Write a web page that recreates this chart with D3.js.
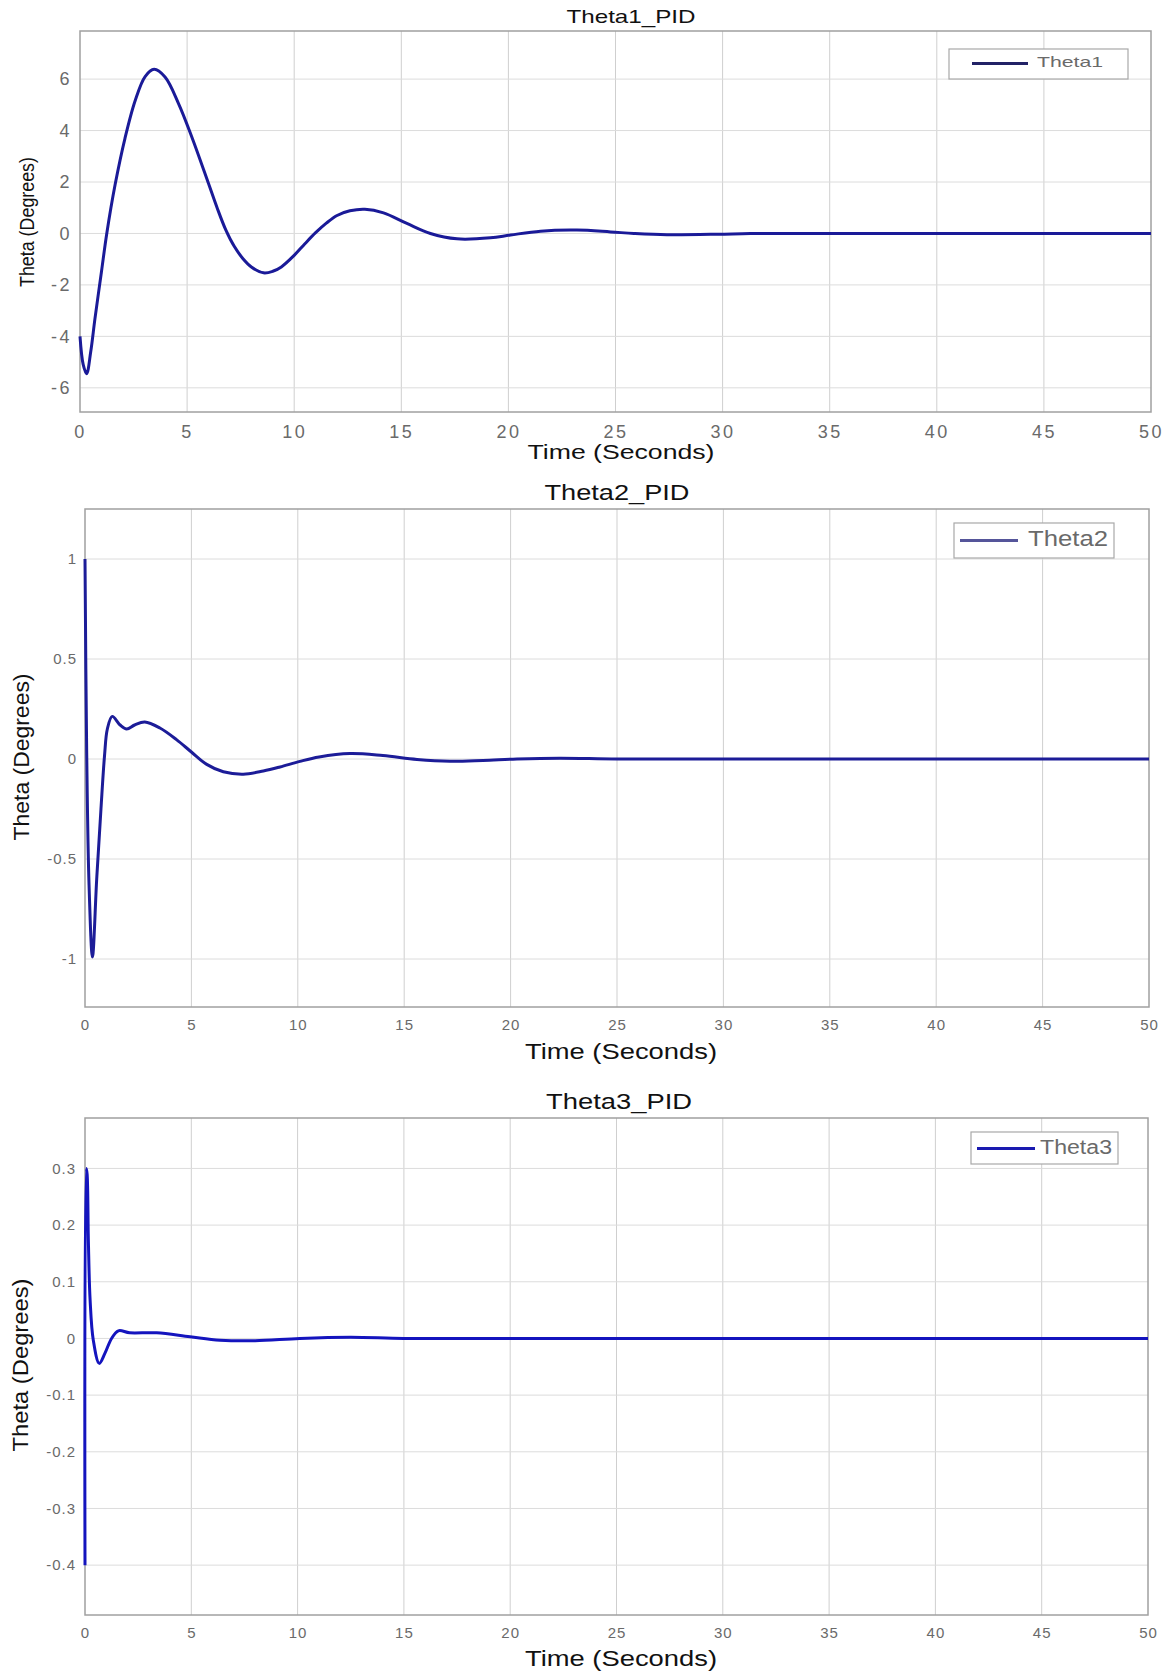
<!DOCTYPE html>
<html>
<head>
<meta charset="utf-8">
<script src="https://cdn.jsdelivr.net/npm/d3@7"></script>
<style>
  body { margin: 0; background: #fff; }
  svg { display: block; font-family: "Liberation Sans", Arial, sans-serif; }
  .grid line { stroke: #dcdcdc; stroke-width: 1; }
  .tick-label { fill: #6a6a6a; }
</style>
</head>
<body>
<svg id="chart"></svg>
<script>
// データ
const t1 = [0, 0.15, 0.31, 0.5, 0.7, 1.0, 1.25, 1.64, 2.1, 2.57, 3.04, 3.46, 3.97, 4.6, 5.22, 6.0, 6.4, 6.8, 7.2, 7.6, 8.0, 8.57, 9.0, 9.4, 10.0, 10.5, 11.0, 11.5, 12.0, 12.6, 13.3, 14.17, 15.26, 16.36, 17.6, 19.16, 20.1, 21.5, 23.2, 24.77, 25.86, 27.4, 29.8, 31.3, 35, 40, 45, 50];
const theta1 = [-4.0, -5.1, -5.45, -4.6, -3.3, -1.5, 0, 1.9, 3.7, 5.15, 6.1, 6.38, 6.08, 5.05, 3.75, 1.94, 1.0, 0.15, -0.5, -0.97, -1.3, -1.53, -1.47, -1.3, -0.85, -0.4, 0.03, 0.4, 0.7, 0.88, 0.94, 0.8, 0.39, 0, -0.21, -0.17, -0.06, 0.09, 0.13, 0.06, 0, -0.05, -0.03, 0, 0, 0, 0, 0];

const t2 = [0, 0.08, 0.19, 0.35, 0.55, 0.75, 0.92, 1.05, 1.28, 1.65, 1.96, 2.33, 2.81, 3.52, 4.3, 5.0, 5.72, 6.5, 7.44, 8.38, 9.16, 10.1, 11.0, 12.45, 14.0, 15.6, 17.15, 18.7, 20.3, 22.3, 25, 30, 40, 50];
const theta2 = [1.0, 0.03, -0.63, -0.99, -0.6, -0.25, 0.02, 0.15, 0.213, 0.17, 0.15, 0.17, 0.185, 0.155, 0.097, 0.035, -0.027, -0.064, -0.076, -0.06, -0.04, -0.012, 0.01, 0.027, 0.017, -0.002, -0.011, -0.007, 0, 0.004, 0, 0, 0, 0];

const t3 = [0, 0.06, 0.1, 0.16, 0.24, 0.39, 0.67, 0.94, 1.25, 1.57, 2.1, 3.37, 4.94, 6.35, 8.0, 10.1, 12.5, 15, 20, 30, 40, 50];
const theta3 = [-0.4, 0.3, 0.29, 0.17, 0.068, -0.003, -0.044, -0.026, 0, 0.0135, 0.01, 0.01, 0.003, -0.003, -0.004, 0, 0.002, 0, 0, 0, 0, 0];

const xTicks = [0, 5, 10, 15, 20, 25, 30, 35, 40, 45, 50];
const yTicks1 = [-6, -4, -2, 0, 2, 4, 6];
const yTicks2 = [-1, -0.5, 0, 0.5, 1];
const yTicks3 = [-0.4, -0.3, -0.2, -0.1, 0, 0.1, 0.2, 0.3];

const seriesNames = ["Theta1", "Theta2", "Theta3"];
const titles = ["Theta1_PID", "Theta2_PID", "Theta3_PID"];

// SVGサイズ
const width = 1175;
const height = 1677;

const svg = d3.select("#chart")
  .attr("width", width)
  .attr("height", height);

svg.append("rect").attr("width", width).attr("height", height).attr("fill", "#fff");

// パネルごとの配置
const panels = [
  {
    t: t1, v: theta1, yTicks: yTicks1, name: seriesNames[0], title: titles[0],
    left: 80, right: 1151, top: 31, bottom: 412, yDomain: [-6.94, 7.87],
    titleY: 18, titleX: 631, titleW: 129, titleSize: 19,
    tickY: 432, tickSize: 18, tickSpacing: 2.5, yTickRight: 72,
    xlabY: 454, xlabW: 187, xlabSize: 20, xlabX: 621,
    ylabX: 29, ylabY: 222, ylabW: 130, ylabSize: 20,
    color: "#1a1a98", lineW: 3,
    legend: { x0: 949, y0: 49, x1: 1128, y1: 79, l0: 972, l1: 1028, ly: 63.5, tx: 1037, tw: 66, ts: 15, lc: "#222266" }
  },
  {
    t: t2, v: theta2, yTicks: yTicks2, name: seriesNames[1], title: titles[1],
    left: 85, right: 1149, top: 509, bottom: 1007, yDomain: [-1.24, 1.25],
    titleY: 494, titleX: 617, titleW: 145, titleSize: 22,
    tickY: 1025, tickSize: 15, tickSpacing: 1, yTickRight: 77,
    xlabY: 1053, xlabW: 192, xlabSize: 22, xlabX: 621,
    ylabX: 23, ylabY: 757, ylabW: 167, ylabSize: 22,
    color: "#1c1c98", lineW: 3,
    legend: { x0: 954, y0: 523, x1: 1114, y1: 558, l0: 960, l1: 1018, ly: 540.5, tx: 1028, tw: 80, ts: 22, lc: "#55559a" }
  },
  {
    t: t3, v: theta3, yTicks: yTicks3, name: seriesNames[2], title: titles[2],
    left: 85, right: 1148, top: 1118, bottom: 1615, yDomain: [-0.488, 0.389],
    titleY: 1103, titleX: 619, titleW: 146, titleSize: 22,
    tickY: 1633, tickSize: 15, tickSpacing: 1, yTickRight: 76,
    xlabY: 1660, xlabW: 192, xlabSize: 22, xlabX: 621,
    ylabX: 22, ylabY: 1365, ylabW: 173, ylabSize: 22,
    color: "#1414be", lineW: 3,
    legend: { x0: 971, y0: 1132, x1: 1118, y1: 1164, l0: 977, l1: 1035, ly: 1148.5, tx: 1040, tw: 72, ts: 20, lc: "#1a1ab0" }
  }
];

panels.forEach(p => {
  const x = d3.scaleLinear().domain([0, 50]).range([p.left, p.right]);
  const y = d3.scaleLinear().domain(p.yDomain).range([p.bottom, p.top]);
  const g = svg.append("g");

  // グリッド
  const grid = g.append("g").attr("class", "grid");
  grid.selectAll(".vx")
    .data(xTicks.slice(1, -1))
    .enter()
    .append("line")
    .attr("x1", d => x(d)).attr("x2", d => x(d))
    .attr("y1", p.top).attr("y2", p.bottom)
    .style("stroke", "#cfcfcf");
  grid.selectAll(".hy")
    .data(p.yTicks)
    .enter()
    .append("line")
    .attr("x1", p.left).attr("x2", p.right)
    .attr("y1", d => y(d)).attr("y2", d => y(d));

  // 枠
  g.append("rect")
    .attr("x", p.left).attr("y", p.top)
    .attr("width", p.right - p.left).attr("height", p.bottom - p.top)
    .attr("fill", "none").attr("stroke", "#a0a0a0").attr("stroke-width", 1.5);

  // 軸（目盛りラベル）
  const xAxis = d3.axisBottom(x).tickValues(xTicks).tickSize(0).tickFormat(d3.format("d"));
  const xa = g.append("g").attr("transform", `translate(0,${p.tickY})`).call(xAxis);
  xa.select(".domain").remove();
  xa.selectAll("text")
    .attr("class", "tick-label")
    .attr("y", 0).attr("dy", "0.35em")
    .style("font-size", p.tickSize + "px")
    .style("letter-spacing", p.tickSpacing + "px");

  const yAxis = d3.axisLeft(y).tickValues(p.yTicks).tickSize(0).tickFormat(d => d3.format("")(d).replace("−", "-"));
  const ya = g.append("g").attr("transform", `translate(${p.yTickRight},0)`).call(yAxis);
  ya.select(".domain").remove();
  ya.selectAll("text")
    .attr("class", "tick-label")
    .attr("x", 0)
    .style("font-size", p.tickSize + "px")
    .style("letter-spacing", p.tickSpacing + "px");

  // 曲線
  const line = d3.line()
    .x((d, i) => x(p.t[i]))
    .y(d => y(d))
    .curve(d3.curveCatmullRom.alpha(0.5));
  g.append("path")
    .datum(p.v)
    .attr("d", line)
    .attr("fill", "none")
    .attr("stroke", p.color)
    .attr("stroke-width", p.lineW)
    .attr("stroke-linejoin", "round");

  // タイトル・軸ラベル
  g.append("text")
    .attr("x", p.titleX).attr("y", p.titleY)
    .attr("text-anchor", "middle").attr("dominant-baseline", "middle")
    .attr("textLength", p.titleW).attr("lengthAdjust", "spacingAndGlyphs")
    .style("font-size", p.titleSize + "px").style("fill", "#111")
    .text(p.title);

  g.append("text")
    .attr("x", p.xlabX).attr("y", p.xlabY)
    .attr("text-anchor", "middle").attr("dominant-baseline", "middle")
    .attr("textLength", p.xlabW).attr("lengthAdjust", "spacingAndGlyphs")
    .style("font-size", p.xlabSize + "px").style("fill", "#111")
    .text("Time (Seconds)");

  g.append("text")
    .attr("transform", `translate(${p.ylabX},${p.ylabY}) rotate(-90)`)
    .attr("text-anchor", "middle").attr("dominant-baseline", "middle")
    .attr("textLength", p.ylabW).attr("lengthAdjust", "spacingAndGlyphs")
    .style("font-size", p.ylabSize + "px").style("fill", "#111")
    .text("Theta (Degrees)");

  // 凡例
  const L = p.legend;
  g.append("rect")
    .attr("x", L.x0).attr("y", L.y0)
    .attr("width", L.x1 - L.x0).attr("height", L.y1 - L.y0)
    .attr("fill", "#fff").attr("stroke", "#a8a8a8").attr("stroke-width", 1.2);
  g.append("line")
    .attr("x1", L.l0).attr("x2", L.l1).attr("y1", L.ly).attr("y2", L.ly)
    .attr("stroke", L.lc).attr("stroke-width", 3);
  g.append("text")
    .attr("x", L.tx).attr("y", L.ly)
    .attr("dominant-baseline", "middle")
    .attr("textLength", L.tw).attr("lengthAdjust", "spacingAndGlyphs")
    .style("font-size", L.ts + "px").style("fill", "#6a6a6a")
    .text(p.name);
});
</script>
</body>
</html>
